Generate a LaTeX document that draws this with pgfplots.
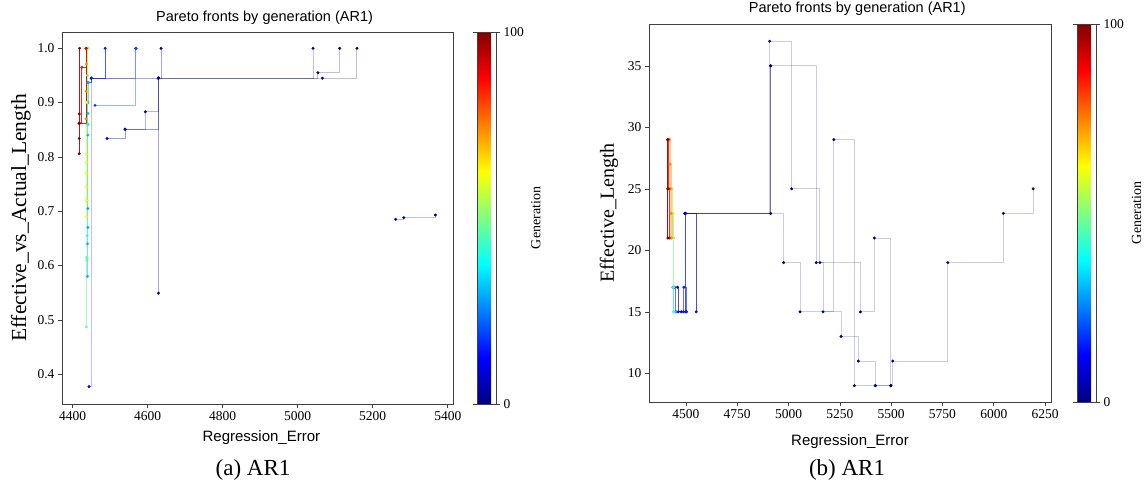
\documentclass[border=0pt]{standalone}
\usepackage{pgfplots}
\pgfplotsset{compat=1.18}
\usepackage{fontspec}
\setmainfont{Liberation Serif}
\newfontfamily\arial{Liberation Sans}

\definecolor{g0}{rgb}{0,0,0.5}
\definecolor{g5}{rgb}{0,0,0.7}
\definecolor{g8}{rgb}{0,0,0.82}
\definecolor{g10}{rgb}{0,0,0.9}
\definecolor{g12}{rgb}{0,0.0,1}
\definecolor{g15}{rgb}{0,0.1,1}
\definecolor{g20}{rgb}{0,0.3,1}
\definecolor{g30}{rgb}{0,0.7,1}
\definecolor{g40}{rgb}{0.1,1,0.9}
\definecolor{g48}{rgb}{0.42,1,0.58}
\definecolor{g62}{rgb}{0.95,1,0.05}
\definecolor{g75}{rgb}{1,0.55,0}
\definecolor{g90}{rgb}{0.92,0,0}
\definecolor{g97}{rgb}{0.65,0,0}
\definecolor{g100}{rgb}{0.5,0,0}

\pgfplotsset{
  /pgf/number format/assume math mode=true,
  /pgf/number format/set thousands separator={},
  front/.style n args={2}{const plot, color=#1, draw opacity=#2, line width=0.9pt,
    mark=*, mark size=1.4pt, mark options={solid, draw opacity=1, fill opacity=1, line width=0.2pt}},
  pf/.style={
    scale only axis,
    axis line style={black!75, line width=0.6pt},
    tick align=outside, tick pos=left, major tick length=4pt,
    tick style={black!75, line width=0.6pt},
    ticklabel style={font=\fontsize{13.5}{14}\selectfont},
    scaled ticks=false,
    colormap/jet, point meta min=0, point meta max=100,
    colorbar,
    colorbar shift/.style={},
  },
}

\begin{document}
\begin{tikzpicture}
\useasboundingbox (0,0) rectangle (1145pt,485pt);

% ---------------- left panel ----------------
\begin{axis}[pf,
  at={(62pt,81pt)}, anchor=south west,
  width=391pt, height=372pt,
  xmin=4372, xmax=5414, ymin=0.345, ymax=1.03,
  xtick={4400,4600,4800,5000,5200,5400},
  ytick={0.4,0.5,0.6,0.7,0.8,0.9,1.0},
  yticklabel style={/pgf/number format/.cd, fixed, fixed zerofill, precision=1},
  title={Pareto fronts by generation (AR1)},
  every axis title/.style={at={(axis description cs:0.518,1.038)}, anchor=center, font=\arial\fontsize{14.5}{16}\selectfont},
  xlabel={Regression\_Error},
  every axis x label/.style={at={(axis description cs:0.51,-0.0914)}, anchor=center, font=\arial\fontsize{15}{16}\selectfont},
  ylabel={Effective\_vs\_Actual\_Length},
  every axis y label/.style={at={(axis description cs:-0.105,0.5)}, anchor=center, rotate=90, font=\fontsize{21.5}{23}\selectfont},
  colorbar style={at={(parent axis.north east)}, anchor=north west, xshift=24pt, width=19pt,
    ytick={0,100}, yticklabel style={font=\fontsize{13.5}{14}\selectfont},
    major tick length=4pt, tick align=outside, tick style={black!75},
    axis line style={black!75, line width=0.5pt},
    ylabel={Generation},
    every axis y label/.style={at={(axis description cs:3.1,0.5)}, anchor=center, rotate=90, font=\fontsize{14}{15}\selectfont}},
]
\addplot[front={g0}{0.25}] coordinates {(4629,0.945) (5041,1.0)};
\addplot[front={g0}{0.25}] coordinates {(4629,0.945) (5054,0.955) (5112,1.0)};
\addplot[front={g0}{0.25}] coordinates {(4629,0.945) (5066,0.945) (5158,1.0)};
\addplot[front={g0}{0.25}] coordinates {(5261,0.685) (5283,0.688) (5367,0.693)};
\addplot[front={g5}{0.35}] coordinates {(4450,0.945) (4629,0.549) (4629,0.945) (4636,1.0)};
\addplot[front={g8}{0.4}] coordinates {(4492,0.834) (4540,0.851) (4629,0.945)};
\addplot[front={g8}{0.3}] coordinates {(4540,0.851) (4594,0.883) (4629,0.945)};
\addplot[front={g12}{0.25}] coordinates {(4444,0.377) (4450,0.945) (4569,1.0)};
\addplot[front={g20}{0.4}] coordinates {(4460,0.895) (4569,1.0)};
\addplot[front={g15}{0.7}] coordinates {(4442,0.937) (4450,0.945) (4487,1.0)};
\addplot[front={g30}{0.5}] coordinates {(4440,0.58) (4440,0.64) (4441,0.67) (4441,0.705) (4441,0.84) (4441,0.86) (4441,0.88) (4441,0.90) (4442,0.937)};
\addplot[front={g40}{0.5}] coordinates {(4439,0.612) (4439,0.655) (4440,0.86) (4441,1.0)};
\addplot[front={g48}{0.6}] coordinates {(4437,0.487) (4438,0.61) (4438,0.615) (4439,0.72) (4440,0.95) (4441,1.0)};
\addplot[front={g62}{0.6}] coordinates {(4437,0.69) (4437,0.72) (4437,0.745) (4437,0.77) (4437,0.79) (4437,0.805) (4438,0.90) (4439,1.0)};
\addplot[front={g75}{0.7}] coordinates {(4436,0.87) (4436,0.921) (4437,0.971) (4437,1.0)};
\addplot[front={g97}{0.8}] coordinates {(4418,0.862) (4436,1.0)};
\addplot[front={g90}{0.85}] coordinates {(4418,0.862) (4425,0.965) (4436,1.0)};
\addplot[front={g100}{0.85}] coordinates {(4418,0.806) (4418,0.834) (4418,0.862) (4418,0.879) (4419,1.0)};
\end{axis}

% ---------------- right panel ----------------
\begin{axis}[pf,
  at={(649pt,83pt)}, anchor=south west,
  width=402pt, height=378pt,
  xmin=4320, xmax=6279, ymin=7.67, ymax=38.4,
  xtick={4500,4750,5000,5250,5500,5750,6000,6250},
  ytick={10,15,20,25,30,35},
  title={Pareto fronts by generation (AR1)},
  every axis title/.style={at={(axis description cs:0.518,1.04)}, anchor=center, font=\arial\fontsize{14.5}{16}\selectfont},
  xlabel={Regression\_Error},
  every axis x label/.style={at={(axis description cs:0.5,-0.106)}, anchor=center, font=\arial\fontsize{15}{16}\selectfont},
  ylabel={Effective\_Length},
  every axis y label/.style={at={(axis description cs:-0.0995,0.5)}, anchor=center, rotate=90, font=\fontsize{20}{22}\selectfont},
  colorbar style={at={(parent axis.north east)}, anchor=north west, xshift=26pt, width=19pt,
    ytick={0,100}, yticklabel style={font=\fontsize{13.5}{14}\selectfont},
    major tick length=4pt, tick align=outside, tick style={black!75},
    axis line style={black!75, line width=0.5pt},
    ylabel={Generation},
    every axis y label/.style={at={(axis description cs:3.14,0.5)}, anchor=center, rotate=90, font=\fontsize{14}{15}\selectfont}},
]
\addplot[front={g0}{0.2}] coordinates {(4495,23) (4908,37) (5015,25) (5153,19) (5350,15) (5418,21) (5498,9) (5508,11) (5776,19) (6047,23) (6192,25)};
\addplot[front={g0}{0.2}] coordinates {(4495,23) (4913,35) (5135,19) (5168,15) (5221,29) (5321,9) (5423,9) (5498,9)};
\addplot[front={g0}{0.2}] coordinates {(4495,23) (4976,19) (5056,15) (5256,13) (5340,11) (5423,9) (5498,9)};
\addplot[front={g0}{0.45}] coordinates {(4498,23) (4913,23) (4913,35)};
\addplot[front={g10}{0.7}] coordinates {(4459,17) (4462,15) (4477,15) (4498,15) (4498,23) (4550,15)};
\addplot[front={g15}{0.6}] coordinates {(4445,17) (4451,15) (4487,15) (4490,17) (4503,15)};
\addplot[front={g30}{0.7}] coordinates {(4436,17) (4441,15) (4451,15)};
\addplot[front={g48}{0.6}] coordinates {(4432,25) (4436,23) (4440,21) (4441,17) (4441,15)};
\addplot[front={g62}{0.5}] coordinates {(4425,25) (4432,23) (4436,21)};
\addplot[front={g75}{0.45}, line width=2.5pt] coordinates {(4418,29) (4422,27) (4425,25) (4428,23) (4430,21)};
\addplot[front={g90}{0.8}] coordinates {(4414,29) (4417,25) (4419,21)};
\addplot[front={g100}{0.9}] coordinates {(4410,29) (4411,25) (4412,21)};
\end{axis}

\node[font=\fontsize{23}{24}\selectfont, anchor=center] at (253pt,15pt) {(a) AR1};
\node[font=\fontsize{23}{24}\selectfont, anchor=center] at (847pt,15pt) {(b) AR1};
\end{tikzpicture}
\end{document}
